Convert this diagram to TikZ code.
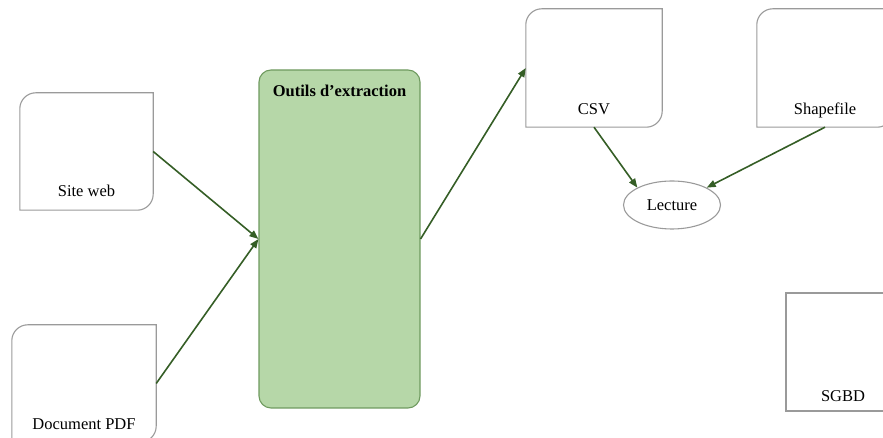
\documentclass[tikz,border=0pt]{standalone}
\usepackage{fontspec}
\setmainfont{Liberation Serif}
\usetikzlibrary{arrows.meta,shapes.geometric}
\definecolor{boxgray}{HTML}{9A9A9A}
\definecolor{greenfill}{HTML}{B6D7A8}
\definecolor{greenborder}{HTML}{6F9A5F}
\definecolor{arrowgreen}{HTML}{355E26}
\newcommand\diagoutline[1]{%
  \draw[boxline] (#1.north east) -- ([xshift=16pt]#1.north west)
    arc[start angle=90,end angle=180,radius=16pt] -- (#1.south west)
    -- ([xshift=-16pt]#1.south east)
    arc[start angle=270,end angle=360,radius=16pt] -- cycle;}
\begin{document}
\begin{tikzpicture}[x=1pt,y=1pt,
  every node/.style={font=\fontsize{16.5}{19}\selectfont},
  boxline/.style={draw=boxgray,line width=1.1pt},
  docbox/.style={rectangle,inner xsep=0pt,text depth=0pt},
  conn/.style={draw=arrowgreen,line width=1.6pt,-{Triangle[length=9pt,width=7pt]}}]
\useasboundingbox (0,0) rectangle (883,438);
\clip (0,0) rectangle (883,438);
\node[docbox,minimum width=133pt,minimum height=117pt,inner ysep=13pt,text height=91pt] (siteweb) at (86.5,286.5) {Site web};
\node[docbox,minimum width=144pt,minimum height=117pt,inner ysep=12pt,text height=93pt] (pdf) at (84,54.5) {Document PDF};
\node[docbox,minimum width=136pt,minimum height=118pt,inner ysep=12pt,text height=94pt] (csv) at (594,370) {CSV};
\node[docbox,minimum width=136pt,minimum height=118pt,inner ysep=12pt,text height=94pt] (shape) at (825,370) {Shapefile};
\diagoutline{siteweb}
\diagoutline{pdf}
\diagoutline{csv}
\diagoutline{shape}
\node[docbox,boxline,minimum width=114pt,minimum height=118pt,inner ysep=9pt,text height=100pt] (sgbd) at (843,86) {SGBD};
\node[rectangle,draw=greenborder,fill=greenfill,line width=1.1pt,rounded corners=12pt,
  minimum width=161pt,minimum height=338pt,inner ysep=16pt,text height=11pt,text depth=295pt,
  font=\bfseries\fontsize{16.5}{19}\selectfont] (tools) at (339.5,199) {Outils d’extraction};
\node[ellipse,boxline,minimum width=97pt,minimum height=48pt,inner sep=0pt] (lecture) at (672,233) {Lecture};
\draw[conn] (siteweb.east) -- (tools.west);
\draw[conn] (pdf.east) -- (tools.west);
\draw[conn] (tools.east) -- (csv.west);
\draw[conn] (csv.south) -- (lecture.north west);
\draw[conn] (shape.south) -- (lecture.north east);
\end{tikzpicture}
\end{document}
